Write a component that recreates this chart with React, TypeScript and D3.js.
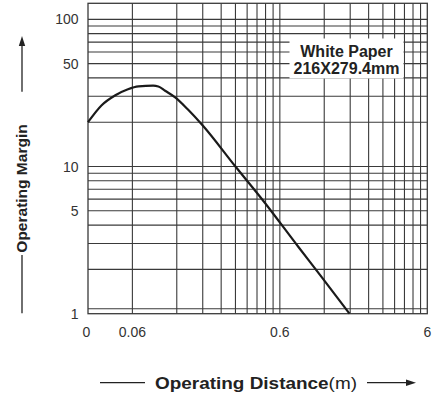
import React from "react";
import * as d3 from "d3";

// Curve data: operating distance (m) vs operating margin
const distance = [0.03, 0.037, 0.046, 0.056, 0.066, 0.083, 0.09, 0.1, 0.117, 0.144, 0.18, 0.3, 0.46, 0.8, 1.15, 1.78];
const margin = [20, 26, 30.5, 33.5, 35, 35.4, 35, 32.7, 29.5, 24.2, 19, 10, 5.9, 2.85, 1.78, 1.0];

const xGrid = [0.06, 0.12, 0.18, 0.24, 0.3, 0.36, 0.42, 0.48, 0.54, 0.6, 1.2, 1.8, 2.4, 3.0, 3.6, 4.2, 4.8, 5.4];
const yGrid = [1.08, 2, 3, 4, 5, 6, 7, 8, 9, 10, 20, 30, 40, 50, 60, 70, 80, 90, 100];
const xTickValues = [0.03, 0.06, 0.6, 6];
const xTickLabels = ["0", "0.06", "0.6", "6"];
const yTickValues = [1, 5, 10, 50, 100];
const yTickLabels = ["1", "5", "10", "50", "100"];

const W = 433;
const H = 396;
const left = 88;
const right = 427.3;
const top = 3.3;
const bottom = 313.7;
const FONT = "'Liberation Sans', Arial, Helvetica, sans-serif";

export default function App() {
  const x = d3.scaleLog().domain([0.03, 6]).range([left, right]);
  const y = d3.scaleLog().domain([1, 128.5]).range([bottom, top]);
  const line = d3
    .line<number>()
    .x((_, i) => x(distance[i]))
    .y((d) => y(d))
    .curve(d3.curveMonotoneX);
  const gridColor = "#3a3a3a";

  return (
    <svg
      width={W}
      height={H}
      style={{ position: "absolute", left: 0, top: 0, background: "#fff" }}
      fontFamily={FONT}
    >
      <rect x={0} y={0} width={W} height={H} fill="#fff" />
      {/* grid */}
      {xGrid.map((v) => (
        <line key={"xg" + v} x1={x(v)} x2={x(v)} y1={top} y2={bottom} stroke={gridColor} strokeWidth={1.1} />
      ))}
      {yGrid.map((v) => (
        <line key={"yg" + v} x1={left} x2={right} y1={y(v)} y2={y(v)} stroke={gridColor} strokeWidth={1.1} />
      ))}
      <rect x={left} y={top} width={right - left} height={bottom - top} fill="none" stroke={gridColor} strokeWidth={1.3} />

      {/* annotation box */}
      <rect x={289.5} y={38.5} width={114} height={40} fill="#fff" />
      <text x={346.5} y={56.7} textAnchor="middle" fontSize={16} fontWeight="bold" fill="#222">
        White Paper
      </text>
      <text x={346.5} y={73.5} textAnchor="middle" fontSize={16} fontWeight="bold" fill="#222">
        216X279.4mm
      </text>

      {/* curve */}
      <path d={line(margin) || ""} fill="none" stroke="#1a1a1a" strokeWidth={2.2} />

      {/* x tick labels */}
      {xTickValues.map((v, i) => (
        <text key={"xt" + i} x={x(v) + (i === 0 ? -1.5 : 0)} y={336.7} textAnchor="middle" fontSize={14} fill="#333">
          {xTickLabels[i]}
        </text>
      ))}
      {/* y tick labels */}
      {yTickValues.map((v, i) => (
        <text key={"yt" + i} x={78.5} y={y(v) + 5} textAnchor="end" fontSize={14} fill="#333">
          {yTickLabels[i]}
        </text>
      ))}

      {/* x title */}
      <line x1={100} x2={145} y1={382.7} y2={382.7} stroke="#222" strokeWidth={1.3} />
      <line x1={367} x2={408} y1={382.7} y2={382.7} stroke="#222" strokeWidth={1.3} />
      <path d="M416,382.7 L406,379.5 L406,385.9 Z" fill="#222" />
      <text x={155} y={389} fontSize={16.5} fill="#222" textLength={202} lengthAdjust="spacingAndGlyphs">
        <tspan fontWeight="bold">Operating Distance</tspan>
        <tspan>(m)</tspan>
      </text>

      {/* y title */}
      <line x1={22} x2={22} y1={44} y2={91.7} stroke="#222" strokeWidth={1.3} />
      <path d="M22,36 L18.8,46 L25.2,46 Z" fill="#222" />
      <line x1={22} x2={22} y1={255} y2={313.3} stroke="#222" strokeWidth={1.3} />
      <text
        transform="translate(26.5,188.5) rotate(-90)"
        textAnchor="middle"
        fontSize={15.5}
        fontWeight="bold"
        fill="#222"
      >
        Operating Margin
      </text>
    </svg>
  );
}
